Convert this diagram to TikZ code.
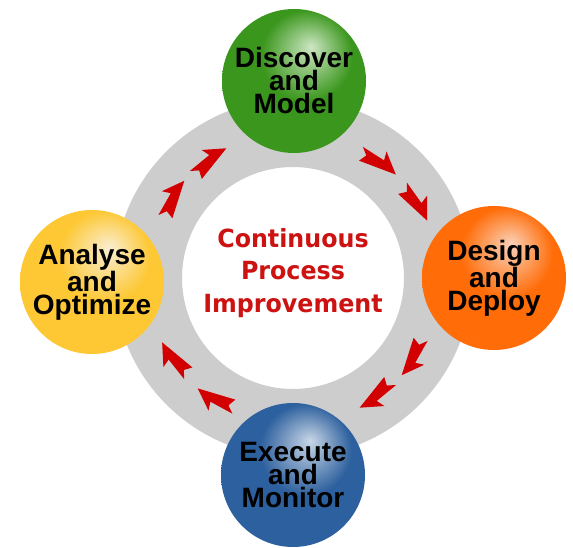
\documentclass[tikz,border=0pt]{standalone}
\usepackage{fontspec}
\newfontfamily\circfont{Liberation Sans}
\newfontfamily\centfont[FakeStretch=0.95]{DejaVu Sans}
\definecolor{ringgray}{RGB}{205,205,205}
\definecolor{arrred}{RGB}{210,0,0}
\definecolor{txtred}{RGB}{205,18,18}
\definecolor{greenbase}{RGB}{58,150,28}
\definecolor{greenhi}{RGB}{205,230,195}
\definecolor{orangebase}{RGB}{255,108,8}
\definecolor{orangehi}{RGB}{250,210,185}
\definecolor{bluebase}{RGB}{45,96,158}
\definecolor{bluehi}{RGB}{200,214,230}
\definecolor{yellowbase}{RGB}{253,200,52}
\definecolor{yellowhi}{RGB}{250,238,210}
\pgfdeclareradialshading{greenball}{\pgfpoint{6bp}{12bp}}{color(0bp)=(greenhi);color(16bp)=(greenbase);color(40bp)=(greenbase);color(60bp)=(greenbase)}
\pgfdeclareradialshading{orangeball}{\pgfpoint{6bp}{12bp}}{color(0bp)=(orangehi);color(16bp)=(orangebase);color(40bp)=(orangebase);color(60bp)=(orangebase)}
\pgfdeclareradialshading{blueball}{\pgfpoint{6bp}{12bp}}{color(0bp)=(bluehi);color(16bp)=(bluebase);color(40bp)=(bluebase);color(60bp)=(bluebase)}
\pgfdeclareradialshading{yellowball}{\pgfpoint{6bp}{12bp}}{color(0bp)=(yellowhi);color(16bp)=(yellowbase);color(40bp)=(yellowbase);color(60bp)=(yellowbase)}
\tikzset{
  ball/.style={circle, minimum size=144pt, inner sep=0pt, align=center, text=black,
    font=\circfont\bfseries\fontsize{28}{23}\selectfont},
  centertext/.style={align=center, text=txtred, font=\centfont\bfseries\fontsize{25}{32.5}\selectfont},
  ringarrow/.style={fill=arrred}
}
\begin{document}
\begin{tikzpicture}[x=1pt,y=1pt]
\fill[white] (0,0) rectangle (573,548);
\useasboundingbox (0,0) rectangle (573,548);
\coordinate (c) at (293,270);
\fill[ringgray,even odd rule] (c) circle[radius=179] (c) circle[radius=111];
\begin{scope}[shift={(293,270)}]
\foreach \a in {54,32,-33,-54,-122,-145,147,126}{
  \fill[ringarrow, shift={(\a:145)}, rotate=\a-82]
    (22,-4) -- (3,12) -- (5,3) -- (-20,5) -- (-13,-1) -- (-17,-9) -- cycle;
}
\end{scope}
\node[ball, shading=greenball] (discover) at (294,467) {Discover\\and\\Model};
\node[ball, shading=orangeball] (design) at (494,270) {Design\\and\\Deploy};
\node[ball, shading=blueball] (execute) at (293,73) {Execute\\and\\Monitor};
\node[ball, shading=yellowball] (analyse) at (92,266) {Analyse\\and\\Optimize};
\node[centertext] (cpi) at (293,275) {Continuous\\Process\\Improvement};
\end{tikzpicture}
\end{document}
